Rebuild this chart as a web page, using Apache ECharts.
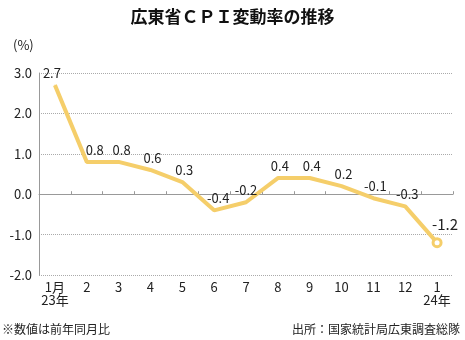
<!DOCTYPE html>
<html><head><meta charset="utf-8">
<script src="https://cdn.jsdelivr.net/npm/echarts@6/dist/echarts.min.js"></script>
<style>html,body{margin:0;padding:0;background:#fff}#c{width:465px;height:340px}</style>
</head><body><div id="c"></div>
<script>
var categories = ['1月\n23年','2','3','4','5','6','7','8','9','10','11','12','1\n24年'];
var cpiValues = [2.7,0.8,0.8,0.6,0.3,-0.4,-0.2,0.4,0.4,0.2,-0.1,-0.3,-1.2];
var labelOffsetX = [-3,8,3,2,2,4,0,2,2,2,2,2,8];
var yTicks = {min:-2, max:3, interval:1};
var titleText = '広東省ＣＰＩ変動率の推移';
var unitText = '(%)';
var noteText = '※数値は前年同月比';
var sourceText = '出所：国家統計局広東調査総隊';

var numFont = "'Liberation Sans Narrow','Noto Sans CJK JP',sans-serif";
var cjkFont = "'Noto Sans CJK JP',sans-serif";
var lineColor = '#F5CE6A';

var data = cpiValues.map(function(v,i){
  var last = i === cpiValues.length-1;
  return {
    value: v,
    symbol: 'circle',
    symbolSize: last ? 8 : 1,
    itemStyle: last ? {color:'#fff',borderColor:lineColor,borderWidth:3} : {color:lineColor,borderColor:lineColor,borderWidth:0},
    label: {offset:[labelOffsetX[i],0], fontSize: last ? 15 : 13}
  };
});

var chart = echarts.init(document.getElementById('c'), null, {renderer:'canvas'});
chart.setOption({
  animation:false,
  backgroundColor:'#fff',
  title:{text:titleText,left:'center',top:3,textStyle:{fontFamily:cjkFont,fontSize:17,fontWeight:'bold',color:'#111'}},
  graphic:[
    {type:'text',left:13,top:39,style:{text:unitText,font:'13px '+numFont,fill:'#222'}},
    {type:'text',left:2,top:323,style:{text:noteText,font:'12px '+cjkFont,fill:'#222'}},
    {type:'text',right:5,top:323,style:{text:sourceText,font:'12px '+cjkFont,fill:'#222'}}
  ],
  grid:{left:39,right:12,top:73,bottom:65,containLabel:false},
  xAxis:{
    type:'category',data:categories,boundaryGap:true,
    axisLine:{lineStyle:{color:'#999',width:1}},
    axisTick:{show:true,inside:true,length:3,lineStyle:{color:'#999'}},
    axisLabel:{margin:6,fontFamily:numFont,fontSize:13,color:'#222',lineHeight:13,interval:0}
  },
  yAxis:{
    type:'value',min:yTicks.min,max:yTicks.max,interval:yTicks.interval,
    axisLine:{show:true,lineStyle:{color:'#999',width:1}},
    axisTick:{show:false},
    axisLabel:{margin:7,fontFamily:numFont,fontSize:13,color:'#222',formatter:function(v){return v.toFixed(1);}},
    splitLine:{show:true,lineStyle:{color:'#aaa',type:'dotted',width:1}}
  },
  series:[{
    type:'line',data:data,
    lineStyle:{color:lineColor,width:4},
    showSymbol:true,
    label:{show:true,position:'top',distance:5,fontFamily:numFont,color:'#222',formatter:function(p){return p.value.toFixed(1);}},
    z:3
  }]
});
</script></body></html>
